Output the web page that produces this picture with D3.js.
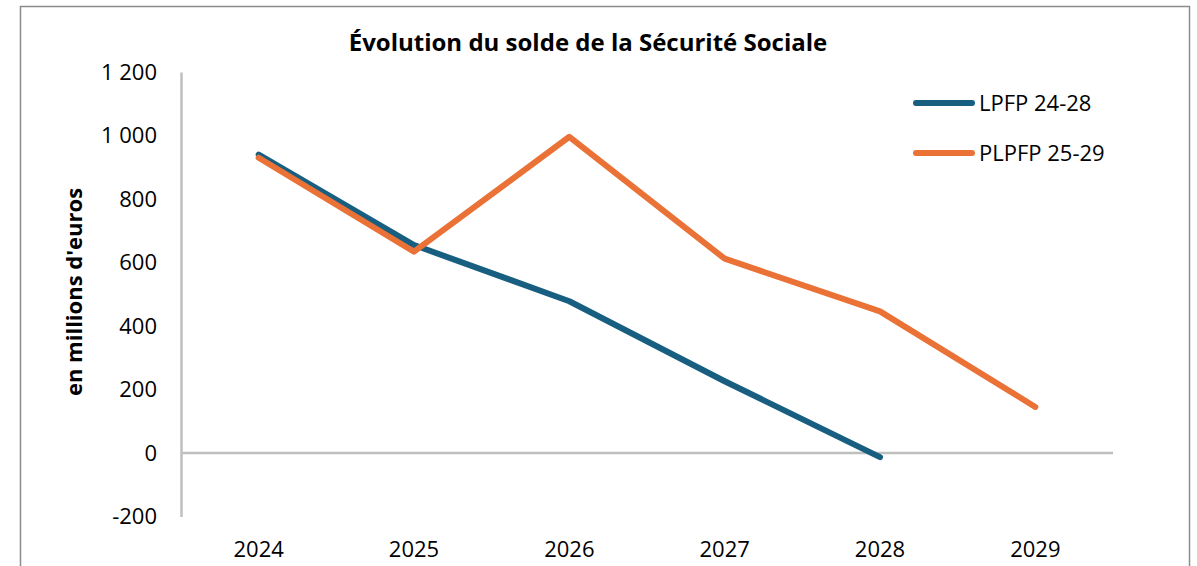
<!DOCTYPE html>
<html>
<head>
<meta charset="utf-8">
<script src="https://cdn.jsdelivr.net/npm/d3@7"></script>
<style>
  body { margin: 0; background: #fff; }
  text { font-family: "Open Sans", sans-serif; fill: #000; }
</style>
</head>
<body>
<div id="chart"></div>
<script>
const years = ['2024', '2025', '2026', '2027', '2028', '2029']
const lpfp = [940, 655, 478, 226, -13]
const plpfp = [930, 634, 996, 612, 446, 145]
const yTicks = [-200, 0, 200, 400, 600, 800, 1000, 1200]
const seriesNames = ['LPFP 24-28', 'PLPFP 25-29']
const colors = ['#175e80', '#ea7236']

const width = 1197
const height = 566
const plotLeft = 181
const plotRight = 1113
const plotTop = 72
const plotBottom = 516.5

const fr = d3.formatLocale({ decimal: ',', thousands: '\u00a0', grouping: [3], currency: ['', ' €'] })
const fmt = fr.format(',d')

const svg = d3.select('#chart')
  .append('svg')
  .attr('width', width)
  .attr('height', height)

// frame
svg.append('rect')
  .attr('x', 20.5)
  .attr('y', 6.5)
  .attr('width', 1169)
  .attr('height', 600)
  .attr('fill', 'none')
  .attr('stroke', '#8c8c8c')
  .attr('stroke-width', 1.5)

const x = d3.scaleBand().domain(years).range([plotLeft, plotRight])
const y = d3.scaleLinear().domain([-200, 1200]).range([plotBottom, plotTop])

// y axis
const yAxis = svg.append('g')
  .attr('transform', `translate(${plotLeft},0)`)
  .call(d3.axisLeft(y).tickValues(yTicks).tickSize(0).tickPadding(24).tickFormat(d => fmt(d).replace('−', '-')))
yAxis.select('.domain').attr('stroke', '#bfbfbf').attr('stroke-width', 2.5)
yAxis.selectAll('text').style('font-size', '22px').attr('fill', '#000')

// x axis labels
const xAxis = svg.append('g')
  .attr('transform', `translate(0,${plotBottom})`)
  .call(d3.axisBottom(x).tickSize(0).tickPadding(25))
xAxis.select('.domain').remove()
xAxis.selectAll('text').style('font-size', '22px').attr('fill', '#000')

// zero line
svg.append('line')
  .attr('x1', plotLeft)
  .attr('x2', plotRight)
  .attr('y1', y(0))
  .attr('y2', y(0))
  .attr('stroke', '#bfbfbf')
  .attr('stroke-width', 2.5)

const line = d3.line()
  .x((d, i) => x(years[i]) + x.bandwidth() / 2)
  .y(d => y(d))

svg.append('path')
  .datum(lpfp)
  .attr('d', line)
  .attr('fill', 'none')
  .attr('stroke', colors[0])
  .attr('stroke-width', 6)
  .attr('stroke-linecap', 'round')
  .attr('stroke-linejoin', 'round')

svg.append('path')
  .datum(plpfp)
  .attr('d', line)
  .attr('fill', 'none')
  .attr('stroke', colors[1])
  .attr('stroke-width', 6)
  .attr('stroke-linecap', 'round')
  .attr('stroke-linejoin', 'round')

// title
svg.append('text')
  .attr('x', 588)
  .attr('y', 51)
  .attr('text-anchor', 'middle')
  .style('font-size', '24px')
  .style('font-weight', 'bold')
  .text('Évolution du solde de la Sécurité Sociale')

// y label
svg.append('text')
  .attr('transform', 'translate(82,292) rotate(-90)')
  .attr('text-anchor', 'middle')
  .style('font-size', '22px')
  .style('font-weight', 'bold')
  .text("en millions d'euros")

// legend
const legend = svg.append('g')
seriesNames.forEach((name, i) => {
  const ly = 103 + i * 50
  legend.append('line')
    .attr('x1', 916)
    .attr('x2', 972)
    .attr('y1', ly)
    .attr('y2', ly)
    .attr('stroke', colors[i])
    .attr('stroke-width', 6)
    .attr('stroke-linecap', 'round')
  legend.append('text')
    .attr('x', 979)
    .attr('y', ly)
    .attr('dy', '0.35em')
    .style('font-size', '22px')
    .text(name)
})
</script>
</body>
</html>
